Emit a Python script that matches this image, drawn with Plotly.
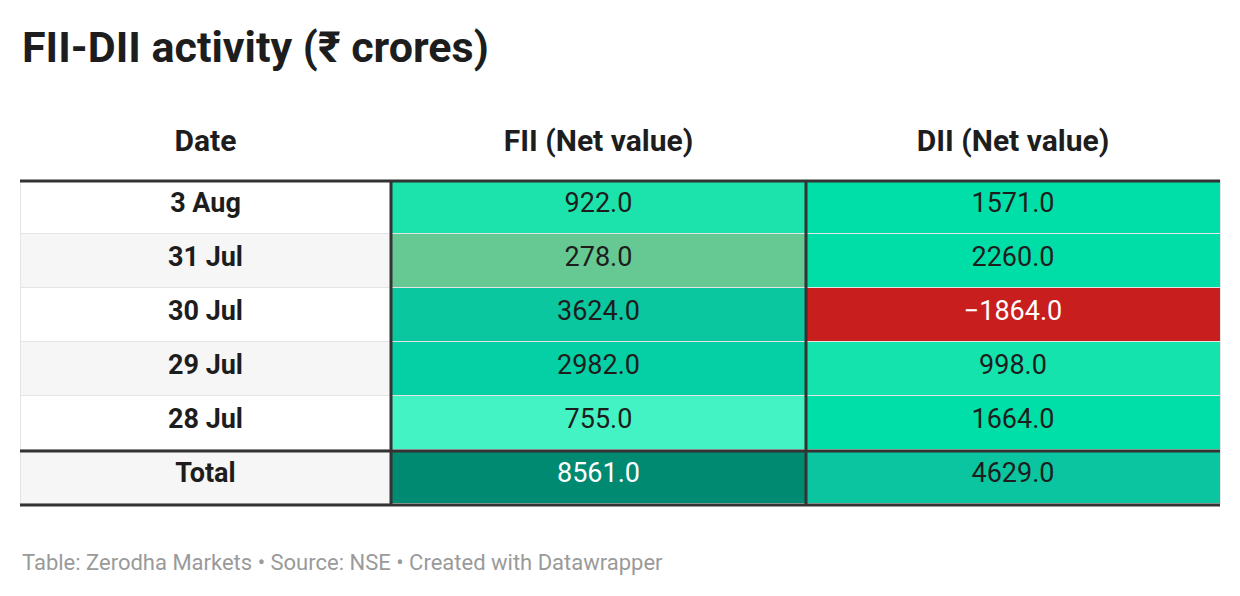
import plotly.graph_objects as go

W, H = 1240, 596

dates = ["3 Aug", "31 Jul", "30 Jul", "29 Jul", "28 Jul", "Total"]
fii = [922.0, 278.0, 3624.0, 2982.0, 755.0, 8561.0]
dii = [1571.0, 2260.0, -1864.0, 998.0, 1664.0, 4629.0]
headers = ["Date", "FII (Net value)", "DII (Net value)"]

fii_colors = ["#1ce3ac", "#66c892", "#0ac7a0", "#05cfa4", "#43f3c3", "#008a72"]
dii_colors = ["#00dfa8", "#00dea8", "#c81e1e", "#14e3ad", "#00dfa8", "#0ac5a0"]
date_colors = ["#ffffff", "#f6f6f6", "#ffffff", "#f6f6f6", "#ffffff", "#f6f6f6"]


def fmt(v):
    return "<span>" + f"{v:.1f}".replace("-", "\u2212") + "</span>"


def txt_color(c):
    return "#ffffff" if c in ("#008a72", "#c81e1e") else "#1d1d1d"


off = 8  # page body margin
left, right, top = 20 - off, 1220 - off, 115 - off  # pixel layout
header_h, row_h = 64, 54
col_w = [371, 415, 414]

fig = go.Figure(go.Table(
    columnwidth=col_w,
    domain=dict(x=[left / W, right / W], y=[0, 1 - top / H]),
    header=dict(values=[f"<b>{h}</b>" for h in headers], height=header_h,
                fill_color="white", line=dict(color="white", width=1),
                align="center", font=dict(family="Roboto", size=30, color="#1d1d1d")),
    cells=dict(values=[[f"<b>{d}</b>" for d in dates],
                       [fmt(v) for v in fii], [fmt(v) for v in dii]],
               height=row_h,
               fill_color=[date_colors, fii_colors, dii_colors],
               line=dict(color="#e4e4e4", width=1),
               align="center",
               font=dict(family="Roboto", size=27,
                         color=[["#1d1d1d"] * 6,
                                [txt_color(c) for c in fii_colors],
                                [txt_color(c) for c in dii_colors]])),
))

# thick rules
y_head = top + header_h + 2
y_total = y_head + row_h * 5
y_end = y_total + row_h
x1 = left + col_w[0]
x2 = x1 + col_w[1]
for y in (y_head, y_total, y_end):
    fig.add_shape(type="line", xref="paper", yref="paper",
                  x0=left / W, x1=right / W, y0=1 - y / H, y1=1 - y / H,
                  line=dict(color="#333333", width=3))
for x in (x1, x2):
    fig.add_shape(type="line", xref="paper", yref="paper",
                  x0=x / W, x1=x / W, y0=1 - y_head / H, y1=1 - y_end / H,
                  line=dict(color="#333333", width=3))

fig.add_annotation(text="<b>FII-DII activity (₹ crores)</b>", xref="paper", yref="paper",
                   x=left / W, y=1 - (47 - off) / H, xanchor="left", yanchor="middle",
                   showarrow=False, font=dict(family="Roboto", size=43, color="#1d1d1d"))
fig.add_annotation(text="Table: Zerodha Markets • Source: NSE • Created with Datawrapper",
                   xref="paper", yref="paper", x=left / W, y=1 - (562 - off) / H,
                   xanchor="left", yanchor="middle", showarrow=False,
                   font=dict(family="Roboto", size=22, color="#9a9a9a"))

fig.update_layout(width=W, height=H, margin=dict(l=0, r=0, t=0, b=0),
                  paper_bgcolor="white", plot_bgcolor="white")

fig.write_html("out.html")
